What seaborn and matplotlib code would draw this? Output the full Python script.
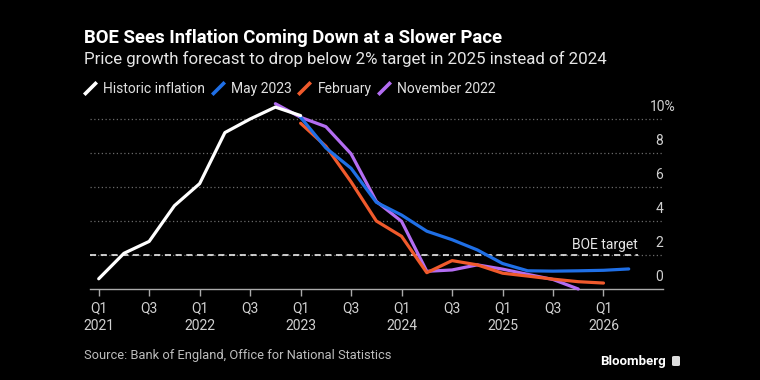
import numpy as np
import pandas as pd

import matplotlib
matplotlib.use("Agg")
import matplotlib.pyplot as plt
import matplotlib.transforms as mtransforms
from matplotlib.lines import Line2D
from matplotlib.patches import FancyBboxPatch

import seaborn as sns

# quarterly CPI, % y/y
historic_start = "2021Q1"
historic = [0.6, 2.1, 2.8, 4.9, 6.2, 9.2, 10.0, 10.7, 10.2]

may_2023_start = "2023Q1"
may_2023 = [10.1, 8.3, 7.1, 5.1, 4.35, 3.4, 2.9, 2.3, 1.5, 1.07, 1.05, 1.07, 1.1, 1.18]

february_start = "2023Q1"
february = [9.75, 8.4, 6.3, 4.0, 3.1, 0.96, 1.67, 1.42, 0.93, 0.76, 0.58, 0.43, 0.35]

november_2022_start = "2022Q4"
november_2022 = [10.9, 10.1, 9.55, 7.95, 5.15, 3.98, 1.04, 1.12, 1.42, 1.17, 0.86, 0.56, 0.0]

series_names = ["November 2022", "February", "May 2023", "Historic inflation"]
legend_order = ["Historic inflation", "May 2023", "February", "November 2022"]
colors = {
    "Historic inflation": "#FFFFFF",
    "May 2023": "#1F6FE6",
    "February": "#F05A2C",
    "November 2022": "#B36DF2",
}

y_ticks = [0, 2, 4, 6, 8, 10]
boe_target = 2

quarters = pd.period_range("2021Q1", "2026Q3", freq="Q")


def to_frame(name, start, values):
    i0 = quarters.get_loc(pd.Period(start, freq="Q"))
    return pd.DataFrame({"q": np.arange(i0, i0 + len(values)), "value": values, "series": name})


df = pd.concat([
    to_frame("Historic inflation", historic_start, historic),
    to_frame("May 2023", may_2023_start, may_2023),
    to_frame("February", february_start, february),
    to_frame("November 2022", november_2022_start, november_2022),
], ignore_index=True)

sns.set_theme(style="dark", rc={
    "figure.facecolor": "black",
    "axes.facecolor": "black",
    "savefig.facecolor": "black",
})
plt.rcParams["font.family"] = ["Roboto", "DejaVu Sans"]

W, H = 760, 380
fig = plt.figure(figsize=(7.6, 3.8), dpi=100)
ax = fig.add_axes([90 / W, 1 - 289 / H, 573.3 / W, 188.7 / H])
ax.set_facecolor("black")

# dotted gridlines
for v in y_ticks[1:]:
    ax.axhline(v, color="#6a6a6a", lw=0.9, ls=(0, (1, 2)), zorder=1)

ax.axhline(boe_target, xmin=0, xmax=0.955, color="white", lw=1.1, ls=(0, (4, 3)), zorder=2)

sns.lineplot(data=df, x="q", y="value", hue="series", hue_order=series_names,
             palette=colors, linewidth=2.3, legend=False, ax=ax, clip_on=False,
             zorder=3)

ax.set_xlim(-0.345, 22.37)
ax.set_ylim(0, 11.1)

# x ticks at Q1 and Q3
tick_pos, tick_lab = [], []
for i, p in enumerate(quarters):
    if p.quarter in (1, 3) and p <= pd.Period("2026Q1", freq="Q"):
        tick_pos.append(i)
        tick_lab.append(f"Q1\n{p.year}" if p.quarter == 1 else "Q3")
ax.set_xticks(tick_pos)
ax.set_xticklabels(tick_lab, color="#d0d0d0", fontsize=10, linespacing=1.35)
ax.tick_params(axis="x", length=5, width=1, color="#aaaaaa", pad=4, bottom=True)
ax.set_yticks([])
ax.set_xlabel("")
ax.set_ylabel("")

for s in ["top", "right", "left"]:
    ax.spines[s].set_visible(False)
ax.spines["bottom"].set_color("#aaaaaa")
ax.spines["bottom"].set_linewidth(1)

# y labels sitting above the gridlines, on the right
up = mtransforms.ScaledTranslation(0, 12 / 100, fig.dpi_scale_trans)
for v in y_ticks:
    lab = f"{v}%" if v == 10 else str(v)
    xr = (676 if v == 10 else 664 - 1) / W
    ax.text(xr, v, lab, color="#d0d0d0", fontsize=10, ha="right", va="center",
            transform=mtransforms.blended_transform_factory(fig.transFigure, ax.transData) + up)

ax.text(0.955, boe_target, "BOE target", color="#e8e8e8", fontsize=10, ha="right", va="center",
        transform=mtransforms.blended_transform_factory(ax.transAxes, ax.transData)
        + mtransforms.ScaledTranslation(0, 9.5 / 100, fig.dpi_scale_trans))

# titles
fig.text(84 / W, 1 - 38 / H, "BOE Sees Inflation Coming Down at a Slower Pace",
         color="white", fontsize=13.3, fontweight="bold", ha="left", va="center")
fig.text(84 / W, 1 - 59 / H, "Price growth forecast to drop below 2% target in 2025 instead of 2024",
         color="#e6e6e6", fontsize=12.15, ha="left", va="center")

# legend with slash handles
handles = [Line2D([], [], color=colors[n], marker=[(-1, -1), (1, 1)], linestyle="none",
                  markersize=9, markeredgewidth=2.6) for n in legend_order]
leg = fig.legend(handles, legend_order, loc="center left", bbox_to_anchor=(84 / W, 1 - 89 / H),
                 ncol=4, frameon=False, fontsize=10, handlelength=0.9, handletextpad=0.5,
                 columnspacing=0.45, borderpad=0, borderaxespad=0)
for t in leg.get_texts():
    t.set_color("#e0e0e0")

fig.text(84 / W, 1 - 356 / H, "Source: Bank of England, Office for National Statistics",
         color="#bdbdbd", fontsize=9.3, ha="left", va="center")
fig.text(666 / W, 1 - 361 / H, "Bloomberg", color="white", fontsize=9.5, fontweight="bold",
         ha="right", va="center")
fig.patches.append(FancyBboxPatch((672 / W, 1 - 366 / H), 8 / W, 10 / H,
                                  boxstyle="round,pad=0,rounding_size=0.003",
                                  transform=fig.transFigure, facecolor="#dddddd", edgecolor="none"))

fig.savefig("out.png", dpi=100, facecolor="black")
